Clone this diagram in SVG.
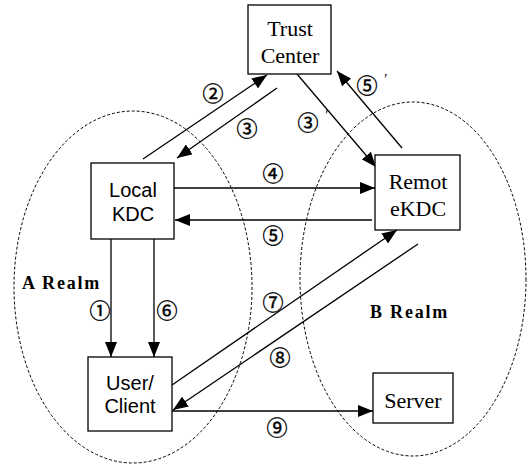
<svg xmlns="http://www.w3.org/2000/svg" width="528" height="465" viewBox="0 0 528 465">
<style>
.box{fill:#fff;stroke:#000;stroke-width:1.3}
.realm{fill:none;stroke:#000;stroke-width:1;stroke-dasharray:3,2}
.ln{stroke:#000;stroke-width:1.3;fill:none}
.serif{font-family:"Liberation Serif","DejaVu Serif",serif;font-size:22px;fill:#000;text-anchor:middle}
.sans{font-family:"Liberation Sans",Arial,sans-serif;font-size:20px;fill:#000;text-anchor:middle}
.num{font-family:"Noto Sans CJK JP","DejaVu Sans",sans-serif;font-size:21px;fill:#000;stroke:#000;stroke-width:0.4;text-anchor:middle}
.rlm{font-family:"Liberation Serif","DejaVu Serif",serif;font-size:18px;font-weight:bold;letter-spacing:1.8px;fill:#000}
.prime{font-family:"Liberation Serif","DejaVu Serif",serif;font-size:15px;fill:#000;text-anchor:middle}
</style>
<defs>
<marker id="ah" viewBox="0 0 15 12" refX="15" refY="6" markerWidth="15" markerHeight="12" markerUnits="userSpaceOnUse" orient="auto">
<path d="M0,0 L15,6 L0,12 Z" fill="#000"/>
</marker>
</defs>
<rect width="528" height="465" fill="#fff"/>
<g id="realms">
<ellipse class="realm" cx="133" cy="287" rx="119" ry="176"/>
<ellipse class="realm" cx="413" cy="279" rx="113" ry="177"/>
<text class="rlm" x="22" y="289">A Realm</text>
<text class="rlm" x="370" y="318">B Realm</text>
</g>
<g id="connectors">
<line class="ln" x1="143" y1="159" x2="267" y2="75" marker-end="url(#ah)"/>
<line class="ln" x1="277" y1="88" x2="177" y2="158" marker-end="url(#ah)"/>
<line class="ln" x1="297" y1="74" x2="376" y2="167" marker-end="url(#ah)"/>
<line class="ln" x1="402" y1="148" x2="337" y2="71" marker-end="url(#ah)"/>
<line class="ln" x1="174" y1="188" x2="375" y2="188" marker-end="url(#ah)"/>
<line class="ln" x1="372" y1="220" x2="175" y2="220" marker-end="url(#ah)"/>
<line class="ln" x1="111" y1="239" x2="111" y2="357" marker-end="url(#ah)"/>
<line class="ln" x1="154" y1="239" x2="154" y2="357" marker-end="url(#ah)"/>
<line class="ln" x1="172" y1="385" x2="397" y2="230" marker-end="url(#ah)"/>
<line class="ln" x1="418" y1="244" x2="173" y2="410" marker-end="url(#ah)"/>
<line class="ln" x1="172" y1="411" x2="373" y2="411" marker-end="url(#ah)"/>
<text class="num" x="213" y="101">②</text>
<text class="num" x="247" y="136">③</text>
<text class="num" x="308" y="130">③</text>
<text class="prime" x="327" y="120">′</text>
<text class="num" x="367" y="93">⑤</text>
<text class="prime" x="386" y="84">′</text>
<text class="num" x="273" y="181">④</text>
<text class="num" x="273" y="243">⑤</text>
<text class="num" x="100" y="318">①</text>
<text class="num" x="167" y="318">⑥</text>
<text class="num" x="273" y="310">⑦</text>
<text class="num" x="280" y="365">⑧</text>
<text class="num" x="277" y="435">⑨</text>
</g>
<g id="trust-center">
<rect class="box" x="248" y="5" width="83" height="69"/>
<text class="serif" x="290" y="36">Trust</text>
<text class="serif" x="290" y="63">Center</text>
</g>
<g id="local-kdc">
<rect class="box" x="91" y="163" width="83" height="76"/>
<text class="sans" x="133" y="197">Local</text>
<text class="sans" x="133" y="221">KDC</text>
</g>
<g id="remote-ekdc">
<rect class="box" x="375" y="155" width="85" height="75"/>
<text class="serif" x="418" y="189">Remot</text>
<text class="serif" x="418" y="216">eKDC</text>
</g>
<g id="user-client">
<rect class="box" x="88" y="357" width="84" height="74"/>
<text class="sans" x="130" y="390">User/</text>
<text class="sans" x="130" y="413">Client</text>
</g>
<g id="server">
<rect class="box" x="373" y="373" width="80" height="50"/>
<text class="serif" x="413" y="408">Server</text>
</g>
</svg>
